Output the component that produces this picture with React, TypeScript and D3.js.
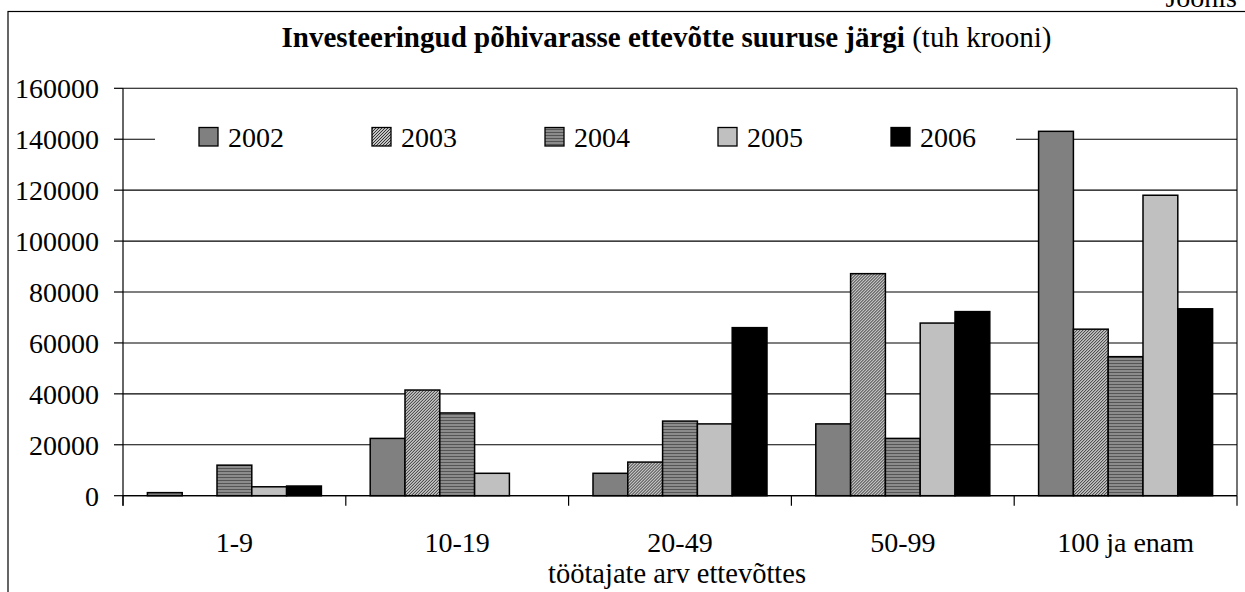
import React from "react";
import * as d3 from "d3";

const categories = ["1-9", "10-19", "20-49", "50-99", "100 ja enam"];
const years = ["2002", "2003", "2004", "2005", "2006"];
const v2002 = [1200, 22500, 8800, 28200, 143100];
const v2003 = [0, 41500, 13200, 87200, 65400];
const v2004 = [12000, 32500, 29300, 22500, 54600];
const v2005 = [3500, 8800, 28200, 67800, 118000];
const v2006 = [3800, 0, 66000, 72300, 73400];
const seriesValues = [v2002, v2003, v2004, v2005, v2006];
const yTicks = [0, 20000, 40000, 60000, 80000, 100000, 120000, 140000, 160000];

const fills = ["#808080", "url(#hatch2003)", "url(#stripe2004)", "#c0c0c0", "#000000"];
const FONT = "'Liberation Serif', 'Times New Roman', serif";

export default function App() {
  const W = 1245, H = 592;
  const left = 123, right = 1237, top = 88.3, bottom = 495.7;
  const x0 = d3.scaleBand<string>().domain(categories).range([left, right]).paddingInner(0).paddingOuter(0);
  const x1 = d3.scaleBand<string>().domain(years).range([24.4, 198.4]).paddingInner(0).paddingOuter(0);
  const y = d3.scaleLinear().domain([0, 160000]).range([bottom, top]);
  const legendX = d3.scaleLinear().domain([0, 4]).range([199, 891]);
  const ts = { fontFamily: FONT };

  return (
    <svg width={W} height={H} style={{ position: "absolute", left: 0, top: 0, display: "block", fontFamily: FONT }}>
      <defs>
        <pattern id="hatch2003" patternUnits="userSpaceOnUse" width="3" height="3">
          <rect width="3" height="3" fill="#ffffff" />
          <path d="M-1,1 l2,-2 M0,3 l3,-3 M2,4 l2,-2" stroke="#2a2a2a" strokeWidth="1.1" />
        </pattern>
        <pattern id="stripe2004" patternUnits="userSpaceOnUse" width="4" height="3">
          <rect width="4" height="3" fill="#8c8c8c" />
          <rect y="0" width="4" height="1" fill="#555555" />
        </pattern>
      </defs>
      <rect x={0} y={0} width={W} height={H} fill="#ffffff" />
      {/* outer frame */}
      <rect x={8} y={11.5} width={W + 20} height={H + 20} fill="none" stroke="#000" strokeWidth={1.2} />
      <text x={1237} y={7} textAnchor="end" fontSize={28} fill="#000" style={ts}>Joonis</text>

      {/* title */}
      <text x={666.5} y={46.5} textAnchor="middle" fontSize={29} fill="#000" style={ts}>
        <tspan fontWeight="bold">Investeeringud põhivarasse ettevõtte suuruse järgi</tspan>
        <tspan> (tuh krooni)</tspan>
      </text>

      {/* gridlines */}
      {yTicks.map((t) => (
        <line key={"g" + t} x1={left} x2={right} y1={y(t)} y2={y(t)} stroke="#000" strokeWidth={1.1} />
      ))}
      {/* right border */}
      <line x1={right} x2={right} y1={top} y2={bottom} stroke="#000" strokeWidth={1.1} />

      {/* bars */}
      {categories.map((c, ci) => (
        <g key={c} transform={`translate(${x0(c)},0)`}>
          {years.map((yr, si) => {
            const v = seriesValues[si][ci];
            if (!v) return null;
            return (
              <rect
                key={yr}
                x={x1(yr)}
                y={y(v)}
                width={x1.bandwidth()}
                height={y(0) - y(v)}
                fill={fills[si]}
                stroke="#000"
                strokeWidth={1.5}
              />
            );
          })}
        </g>
      ))}

      {/* legend */}
      <rect x={155} y={110} width={861} height={55} fill="#ffffff" />
      {years.map((yr, i) => (
        <g key={"l" + yr}>
          <rect x={legendX(i)} y={127.5} width={19} height={18.5} fill={fills[i]} stroke="#000" strokeWidth={1.3} />
          <text x={legendX(i) + 29} y={147} fontSize={28} fill="#000" style={ts}>{yr}</text>
        </g>
      ))}

      {/* y axis */}
      <line x1={left} x2={left} y1={top} y2={bottom + 10} stroke="#000" strokeWidth={1.2} />
      {yTicks.map((t) => (
        <g key={"t" + t}>
          <line x1={left - 9} x2={left} y1={y(t)} y2={y(t)} stroke="#000" strokeWidth={1.2} />
          <text x={99} y={y(t)} dy="0.35em" textAnchor="end" fontSize={28} fill="#000" style={ts}>{t}</text>
        </g>
      ))}

      {/* x axis */}
      <line x1={left} x2={right} y1={bottom} y2={bottom} stroke="#000" strokeWidth={1.2} />
      {categories.concat(["__end"]).map((c, i) => {
        const xx = i < categories.length ? (x0(c) as number) : right;
        return <line key={"xt" + i} x1={xx} x2={xx} y1={bottom} y2={bottom + 10} stroke="#000" strokeWidth={1.2} />;
      })}
      {categories.map((c) => (
        <text key={"xl" + c} x={(x0(c) as number) + x0.bandwidth() / 2} y={552} textAnchor="middle" fontSize={28} fill="#000" style={ts}>
          {c}
        </text>
      ))}
      <text x={677} y={582.5} textAnchor="middle" fontSize={28.5} fill="#000" style={ts}>töötajate arv ettevõttes</text>
    </svg>
  );
}
